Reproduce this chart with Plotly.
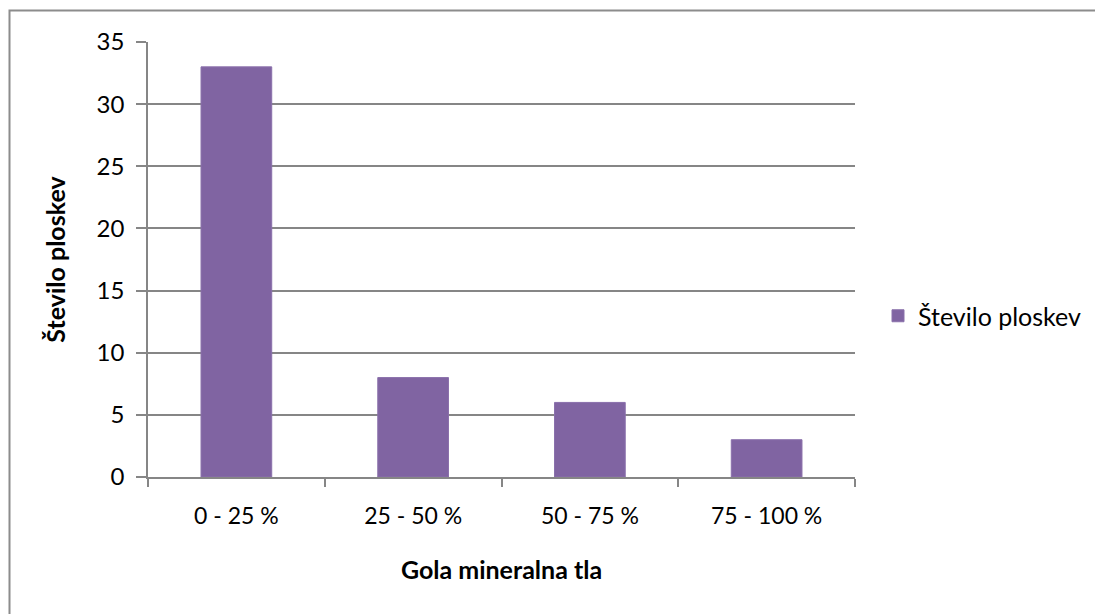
import plotly.graph_objects as go

# Bare mineral soil cover classes and number of plots in each
categories = ["0 - 25 %", "25 - 50 %", "50 - 75 %", "75 - 100 %"]
plot_counts = [33, 8, 6, 3]
series_name = "Število ploskev"
y_ticks = [0, 5, 10, 15, 20, 25, 30, 35]

W, H = 1095, 614
L, R, T, B = 148, 855, 42, 477
FONT = "Lato, 'Open Sans', sans-serif"
GRID = "#868686"

fig = go.Figure(
    go.Bar(
        x=categories,
        y=plot_counts,
        name=series_name,
        marker=dict(color="#8064A2", line=dict(color="#8a70ab", width=1)),
        width=0.4,
        showlegend=True,
    )
)

# frame around the chart area (right and bottom edges run past the page)
fig.add_shape(
    type="rect", xref="paper", yref="paper",
    x0=(9.5 - L) / (R - L), x1=(W + 20 - L) / (R - L),
    y0=(B - (H + 20)) / (B - T), y1=(B - 10.5) / (B - T),
    line=dict(color="#8c8c8c", width=2), fillcolor="rgba(0,0,0,0)", layer="below",
)

fig.update_layout(
    width=W, height=H,
    margin=dict(l=L, r=W - R, t=T, b=H - B, autoexpand=False),
    paper_bgcolor="white", plot_bgcolor="white",
    font=dict(family=FONT, size=23, color="#000000"),
    bargap=0.6,
    legend=dict(
        x=(878 - L) / (R - L), xanchor="left",
        y=(B - 316) / (B - T), yanchor="middle",
        font=dict(family=FONT, size=25, color="#000000"),
        bgcolor="rgba(0,0,0,0)",
    ),
    xaxis=dict(
        type="category",
        showline=True, linecolor=GRID, linewidth=1.5,
        ticks="outside", tickson="boundaries", ticklen=8, tickcolor=GRID, tickwidth=1.5,
        showgrid=False,
        tickfont=dict(size=23),
        ticklabelstandoff=18,
        title=dict(text="<b>Gola mineralna tla</b>", font=dict(family=FONT, size=25), standoff=33),
        automargin=False,
    ),
    yaxis=dict(
        range=[0, 35], tickvals=y_ticks,
        showline=True, linecolor=GRID, linewidth=1.5,
        ticks="outside", ticklen=10, tickcolor=GRID, tickwidth=1.5,
        showgrid=True, gridcolor=GRID, gridwidth=1.5,
        zeroline=False,
        tickfont=dict(size=24),
        ticklabelstandoff=7,
        title=dict(text="<b>Število ploskev</b>", font=dict(family=FONT, size=25), standoff=24),
        automargin=False,
    ),
)

fig.write_html("out.html")
